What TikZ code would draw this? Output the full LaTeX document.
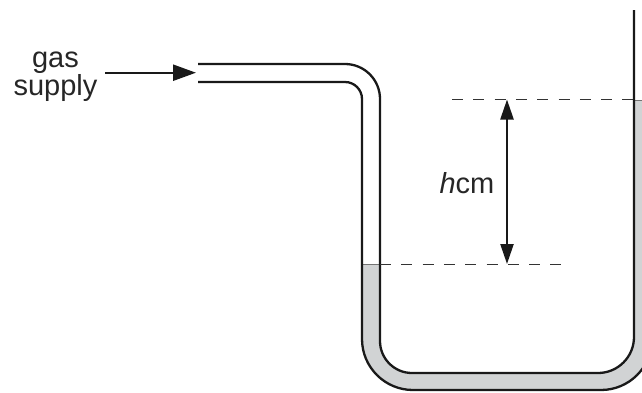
\documentclass[tikz,border=0pt]{standalone}
\usepackage{fontspec}
\setmainfont{Liberation Sans}
\usetikzlibrary{arrows.meta}
\definecolor{liquid}{HTML}{D1D3D4}
\tikzset{
	wall/.style={line width=2.3pt,color=black!90},
	level/.style={line width=1pt,color=black!80,dash pattern=on 11pt off 10.3pt},
	pointer/.style={line width=2.3pt,color=black!90,-{Triangle[length=23pt,width=16pt]}},
	updown/.style={line width=2.3pt,color=black!90,-{Triangle[length=20pt,width=13pt]}},
	label/.style={font=\fontsize{29}{27}\selectfont,inner sep=0pt,align=center,color=black!85}
}
\begin{document}
\begin{tikzpicture}[x=1pt,y=-1pt]
	\useasboundingbox (0,0) rectangle (642,392);
	\clip (0,0) rectangle (642,392);
	% Liquid in the tube
	\fill[liquid] (362,264) -- (380,264) -- (380,341) arc[start angle=180,end angle=90,radius=32] -- (598,373) arc[start angle=90,end angle=0,radius=36] -- (634,100) -- (652,100) -- (652,339) arc[start angle=0,end angle=90,radius=51] -- (413,390) arc[start angle=90,end angle=180,radius=51] -- cycle;
	\draw[line width=.7pt,black!55] (362,264) -- (380,264);
	\draw[line width=.7pt,black!55] (634,100) -- (642,100);
	% Tube walls
	\draw[wall] (198,64) -- (345,64) arc[start angle=-90,end angle=0,radius=35] -- (380,341) arc[start angle=180,end angle=90,radius=32] -- (598,373) arc[start angle=90,end angle=0,radius=36] -- (634,10);
	\draw[wall] (198,82) -- (345,82) arc[start angle=-90,end angle=0,radius=17] -- (362,339) arc[start angle=180,end angle=90,radius=51] -- (601,390) arc[start angle=90,end angle=0,radius=51];
	% Levels
	\coordinate (topL) at (452,99.5);
	\coordinate (topR) at (634,99.5);
	\coordinate (lowL) at (380,264);
	\coordinate (lowR) at (565,264);
	\coordinate (topH) at (507,99.5);
	\coordinate (lowH) at (507,264);
	\draw[level] (topL) -- (topR);
	\draw[level] (lowL) -- (lowR);
	% Labels
	\node[label] (gas) at (55.5,76.5) {gas\\supply};
	\node[label] (height) at (467,183) {\textit{h}cm};
	\coordinate (inlet) at (196,72.7);
	\draw[pointer] (105,72.7) -- (inlet);
	\draw[updown] (height.east -| topH) -- (topH);
	\draw[updown] (height.east -| lowH) -- (lowH);
\end{tikzpicture}
\end{document}
